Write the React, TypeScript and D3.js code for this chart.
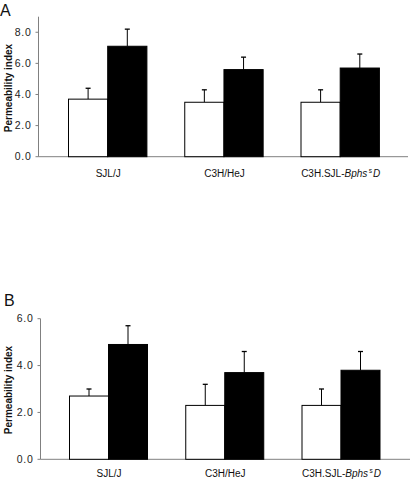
import React from "react";
import * as d3 from "d3";

const categories = ["SJL/J", "C3H/HeJ", "C3H.SJL-Bphs^s D"];

const panelAOpen = [3.7, 3.5, 3.5];
const panelAOpenErr = [0.7, 0.8, 0.8];
const panelAFilled = [7.1, 5.6, 5.7];
const panelAFilledErr = [1.1, 0.8, 0.9];
const panelATicks = [0, 2, 4, 6, 8];

const panelBOpen = [2.7, 2.3, 2.3];
const panelBOpenErr = [0.3, 0.9, 0.7];
const panelBFilled = [4.9, 3.7, 3.8];
const panelBFilledErr = [0.8, 0.9, 0.8];
const panelBTicks = [0, 2, 4, 6];

type PanelProps = {
  letter: string;
  letterX: number;
  letterY: number;
  axisX: number;
  y0: number;
  yTop: number;
  yMax: number;
  axisTopVal: number;
  baseEnd: number;
  centers: [number, number];
  barW: number;
  open: number[];
  openErr: number[];
  filled: number[];
  filledErr: number[];
  ticks: number[];
  labelY: number;
  titleY: number;
};

const FONT = "Liberation Sans, Arial, sans-serif";
const AXIS = "#808080";

function CatLabel({ name, x, y }: { name: string; x: number; y: number }) {
  if (name.includes("^")) {
    return (
      <text x={x} y={y} textAnchor="middle" fontFamily={FONT} fontSize={10} fill="#111">
        <tspan>C3H.SJL-</tspan>
        <tspan fontStyle="italic">Bphs</tspan>
        <tspan fontSize={6.5} dy={-4} dx={1.5}>s</tspan>
        <tspan fontStyle="italic" dy={4} dx={1}>D</tspan>
      </text>
    );
  }
  return (
    <text x={x} y={y} textAnchor="middle" fontFamily={FONT} fontSize={10} fill="#111">
      {name}
    </text>
  );
}

function Panel(p: PanelProps) {
  const y = d3.scaleLinear().domain([0, p.yMax]).range([p.y0, p.yTop]);
  const x = d3.scalePoint<string>().domain(categories).range(p.centers);
  const series = [
    { vals: p.open, errs: p.openErr, fill: "#ffffff", off: -p.barW },
    { vals: p.filled, errs: p.filledErr, fill: "#000000", off: 0 },
  ];
  return (
    <g>
      <text x={p.letterX} y={p.letterY} fontFamily={FONT} fontSize={16} fill="#111">
        {p.letter}
      </text>
      <line x1={p.axisX} x2={p.axisX} y1={p.y0} y2={y(p.axisTopVal)} stroke={AXIS} strokeWidth={1} />
      <line x1={p.axisX} x2={p.baseEnd} y1={p.y0} y2={p.y0} stroke={AXIS} strokeWidth={1} />
      {p.ticks.map((t) => (
        <g key={t}>
          <line x1={p.axisX - 3} x2={p.axisX} y1={y(t)} y2={y(t)} stroke={AXIS} strokeWidth={1} />
          <text
            x={p.axisX - 7}
            y={y(t) + 3.6}
            textAnchor="end"
            fontFamily={FONT}
            fontSize={10.5}
            letterSpacing={0.7}
            fill="#222"
          >
            {d3.format(".1f")(t)}
          </text>
        </g>
      ))}
      <text
        transform={`translate(${11.5},${p.titleY}) rotate(-90)`}
        textAnchor="middle"
        fontFamily={FONT}
        fontWeight="bold"
        fontSize={10}
        fill="#111"
      >
        Permeability index
      </text>
      {series.map((s, si) =>
        categories.map((c, i) => {
          const cx = (x(c) as number) + s.off;
          const v = s.vals[i];
          const e = v + s.errs[i];
          const mid = cx + p.barW / 2;
          return (
            <g key={`${si}-${i}`}>
              <line x1={mid} x2={mid} y1={y(v)} y2={y(e)} stroke="#000" strokeWidth={1} />
              <line x1={mid - 2.5} x2={mid + 2.5} y1={y(e)} y2={y(e)} stroke="#000" strokeWidth={1.3} />
              <rect x={cx} y={y(v)} width={p.barW} height={p.y0 - y(v)} fill={s.fill} stroke="#000" strokeWidth={1} />
            </g>
          );
        })
      )}
      {categories.map((c) => (
        <CatLabel key={c} name={c} x={(x(c) as number) + 0.5} y={p.labelY} />
      ))}
    </g>
  );
}

export default function App() {
  return (
    <svg width={411} height={479} style={{ position: "absolute", left: 0, top: 0, background: "#fff" }}>
      <Panel
        letter="A"
        letterX={0}
        letterY={16}
        axisX={38.5}
        y0={156.7}
        yTop={16.7}
        yMax={9}
        axisTopVal={9}
        baseEnd={408}
        centers={[107.7, 340.2]}
        barW={39.2}
        open={panelAOpen}
        openErr={panelAOpenErr}
        filled={panelAFilled}
        filledErr={panelAFilledErr}
        ticks={panelATicks}
        labelY={177}
        titleY={88}
      />
      <Panel
        letter="B"
        letterX={4}
        letterY={306}
        axisX={40.5}
        y0={459.3}
        yTop={318.7}
        yMax={6}
        axisTopVal={6}
        baseEnd={410}
        centers={[108.5, 341]}
        barW={39}
        open={panelBOpen}
        openErr={panelBOpenErr}
        filled={panelBFilled}
        filledErr={panelBFilledErr}
        ticks={panelBTicks}
        labelY={477}
        titleY={390}
      />
    </svg>
  );
}
